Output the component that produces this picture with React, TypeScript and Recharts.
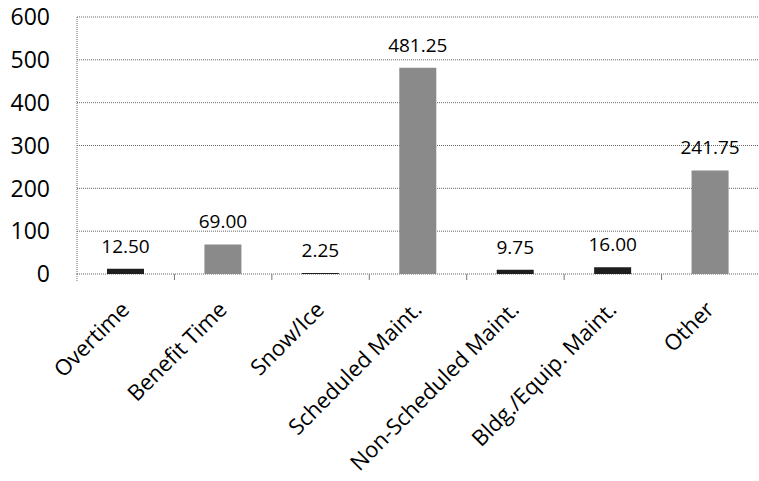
import React from "react";
import { BarChart, Bar, XAxis, YAxis, CartesianGrid, LabelList, Cell } from "recharts";

const categories = [
  "Overtime",
  "Benefit Time",
  "Snow/Ice",
  "Scheduled Maint.",
  "Non-Scheduled Maint.",
  "Bldg./Equip. Maint.",
  "Other",
];
const hours = [12.5, 69.0, 2.25, 481.25, 9.75, 16.0, 241.75];
const yTicks = [0, 100, 200, 300, 400, 500, 600];

const data = categories.map((name, i) => ({ name, value: hours[i] }));

const W = 759;
const H = 481;
const LEFT = 77;
const FONT = "'Open Sans', 'Liberation Sans', sans-serif";
const BAND = (W - LEFT) / categories.length;

const YTick = (props: any) => {
  const { y, payload } = props;
  return (
    <text x={50} y={y} dy="0.36em" textAnchor="end" fontFamily={FONT} fontSize={23} fill="#000">
      {payload.value}
    </text>
  );
};

const XTick = (props: any) => {
  const { x, y, index, payload } = props;
  return (
    <g>
      {index > 0 && (
        <line x1={x - BAND / 2} x2={x - BAND / 2} y1={y} y2={y + 6} stroke="#777" strokeWidth={1} />
      )}
      {index === 0 && (
        <line x1={x - BAND / 2} x2={x - BAND / 2} y1={y} y2={y + 8} stroke="#777" strokeWidth={1} strokeDasharray="1 1" />
      )}
      <g transform={`translate(${x + 5},${y + 37})`}>
        <text transform="rotate(-45)" textAnchor="end" fontFamily={FONT} fontSize={22} fill="#000">
          {payload.value}
        </text>
      </g>
    </g>
  );
};

const ValueLabel = (props: any) => {
  const { x, y, width, value } = props;
  return (
    <text x={x + width / 2} y={y - 16} textAnchor="middle" fontFamily={FONT} fontSize={19} fill="#000">
      {Number(value).toFixed(2)}
    </text>
  );
};

export default function App() {
  return (
    <div style={{ position: "absolute", left: 0, top: 0, width: W, height: H, background: "#fff" }}>
      <BarChart width={W} height={H} data={data} margin={{ top: 17, right: 0, bottom: 0, left: 0 }}>
        <CartesianGrid vertical={false} stroke="#666" strokeDasharray="1 1" />
        <XAxis
          dataKey="name"
          interval={0}
          height={207}
          axisLine={false}
          tickLine={false}
          tickSize={0}
          tickMargin={0}
          tick={<XTick />}
        />
        <YAxis
          width={LEFT}
          domain={[0, 600]}
          ticks={yTicks}
          interval={0}
          axisLine={{ stroke: "#666", strokeDasharray: "1 1" }}
          tickLine={false}
          tick={<YTick />}
        />
        <Bar dataKey="value" barSize={37} isAnimationActive={false}>
          {data.map((d, i) => (
            <Cell key={i} fill={d.value < 20 ? "#1e1e1e" : "#8a8a8a"} />
          ))}
          <LabelList dataKey="value" content={<ValueLabel />} />
        </Bar>
      </BarChart>
    </div>
  );
}
